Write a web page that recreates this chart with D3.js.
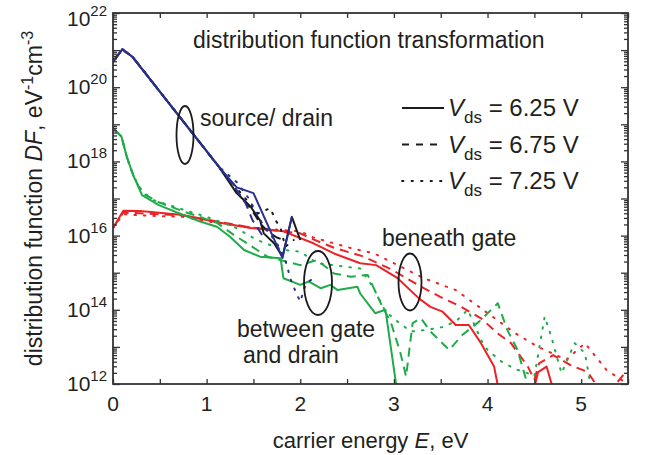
<!DOCTYPE html>
<html>
<head>
<meta charset="utf-8">
<script src="https://cdn.jsdelivr.net/npm/d3@7"></script>
<style>
  body { margin: 0; background: #fff; }
  svg { display: block; font-family: "Liberation Sans", Arial, Helvetica, sans-serif; }
</style>
</head>
<body>
<svg id="chart" width="651" height="455"></svg>
<script>
// Carrier energy distribution functions (eV^-1 cm^-3) vs carrier energy (eV)
// for three drain biases, in three regions of the device.

// --- source / drain region (blue = source, black = drain) ---
const srcSolidE  = [0, 0.10, 0.21, 1.13, 1.32, 1.50, 1.81, 1.91];
const srcSolidDF = [4.9e20, 1.05e21, 6.5e20, 7.2e17, 2.0e17, 1.4e17, 2.5e15, 3.2e16];
const srcDashE   = [0, 0.10, 0.21, 1.13, 1.30, 1.42, 1.49, 1.56, 1.62];
const srcDashDF  = [4.9e20, 1.05e21, 6.5e20, 7.2e17, 2.0e17, 7.1e16, 2.6e16, 1.4e16, 7.9e15];
const srcDotE    = [0, 0.10, 0.21, 1.13, 1.32, 1.45, 1.60, 1.75, 1.84, 1.90, 1.95, 2.00, 2.06, 2.14];
const srcDotDF   = [4.9e20, 1.05e21, 6.5e20, 7.2e17, 2.8e17, 1.0e17, 2.0e16, 6.3e15, 2.2e15, 6.3e14, 3.1e14, 1.66e14, 5.1e14, 7.1e14];

const drnSolidE  = [0, 0.10, 0.21, 1.13, 1.32, 1.47, 1.57, 1.61, 1.72, 1.81, 1.91, 2.00];
const drnSolidDF = [4.9e20, 1.05e21, 6.5e20, 7.2e17, 1.4e17, 6.0e16, 2.6e16, 1.15e16, 6.2e15, 2.7e15, 3.2e16, 7.6e15];
const drnDashE   = [0, 0.10, 0.21, 1.13, 1.32, 1.48, 1.58, 1.66, 1.75, 1.85];
const drnDashDF  = [4.9e20, 1.05e21, 6.5e20, 7.2e17, 1.6e17, 5.0e16, 2.0e16, 1.26e16, 8.9e15, 7.1e15];
const drnDotE    = [0, 0.10, 0.21, 1.13, 1.40, 1.55, 1.68, 1.74, 1.79, 1.84, 1.93];
const drnDotDF   = [4.9e20, 1.05e21, 6.5e20, 7.2e17, 1.1e17, 4.0e16, 5.5e16, 2.5e16, 1.6e16, 5.0e15, 7.6e15];

// --- between gate and drain (green) ---
const gdSolidE  = [0, 0.09, 0.15, 0.22, 0.31, 0.49, 0.75, 0.93, 1.11, 1.25, 1.40, 1.57, 1.79, 1.82, 2.00, 2.09, 2.22, 2.32, 2.40, 2.61, 2.64, 2.80, 2.91, 3.04];
const gdSolidDF = [7.8e18, 4.7e18, 1.26e18, 4.0e17, 1.23e17, 6.6e16, 3.6e16, 2.4e16, 1.74e16, 9.3e15, 4.1e15, 2.7e15, 2.45e15, 7.1e14, 4.7e14, 5.8e14, 3.8e14, 4.7e14, 3.4e14, 4.2e14, 2.75e14, 8.1e13, 1.0e14, 5e11];
const gdDashE   = [0, 0.09, 0.15, 0.22, 0.31, 0.49, 0.75, 0.93, 1.11, 1.29, 1.54, 1.65, 2.00, 2.18, 2.36, 2.54, 2.72, 2.86, 2.97, 3.07, 3.13, 3.20, 3.29, 3.39, 3.59, 3.73, 3.91, 4.11, 4.21, 4.32, 4.46];
const gdDashDF  = [7.8e18, 4.7e18, 1.26e18, 4.0e17, 1.4e17, 7.9e16, 4.5e16, 3.2e16, 2.2e16, 1.05e16, 4.1e15, 2.7e15, 1.6e15, 2.2e15, 9.5e14, 7.8e14, 8.7e14, 1.5e14, 4.4e13, 6.8e12, 1.6e12, 4.4e13, 5.9e13, 2.6e13, 8.3e12, 2.1e13, 4.8e13, 1.5e14, 2.9e13, 8.3e12, 5e11];
const gdDotE    = [0, 0.09, 0.15, 0.22, 0.31, 0.43, 0.75, 1.00, 1.29, 1.54, 1.82, 2.00, 2.18, 2.36, 2.48, 2.64, 2.78, 2.91, 3.04, 3.18, 3.36, 3.54, 3.68, 3.79, 3.93, 4.00, 4.15, 4.30, 4.42, 4.50, 4.61, 4.68, 4.79, 4.93, 5.04, 5.12];
const gdDotDF   = [7.8e18, 4.7e18, 1.26e18, 4.0e17, 1.6e17, 9.1e16, 5.0e16, 3.2e16, 1.74e16, 7.6e15, 4.1e15, 3.7e15, 1.8e15, 1.6e15, 1.45e15, 1.3e15, 4.0e14, 8.9e13, 4.8e13, 2.6e13, 2.9e13, 3.5e13, 5.4e13, 1.0e14, 1.55e13, 8.3e12, 4.0e12, 2.5e12, 2.0e12, 1.6e12, 6.6e13, 1.9e13, 1.95e12, 1.26e13, 6.8e12, 5e11];

// --- beneath the gate (red) ---
const bgSolidE  = [0, 0.11, 0.29, 0.75, 1.11, 1.47, 1.82, 2.14, 2.36, 2.64, 2.81, 3.04, 3.27, 3.39, 3.52, 3.66, 3.80, 3.93, 4.07, 4.13, 4.48, 4.54, 4.63, 4.72];
const bgSolidDF = [1.6e16, 4.7e16, 4.6e16, 3.6e16, 2.3e16, 1.6e16, 1.3e16, 6.2e15, 3.3e15, 1.8e15, 1.6e15, 7.1e14, 2.0e14, 1.2e14, 8.9e13, 3.9e13, 3.9e13, 1.26e13, 2.95e12, 5e11, 5e11, 2.1e12, 2.95e12, 5e11];
const bgDashE   = [0, 0.11, 0.29, 0.75, 1.11, 1.47, 1.82, 2.00, 2.14, 2.36, 2.68, 2.98, 3.29, 3.50, 3.72, 3.93, 4.11, 4.25, 4.43, 4.50, 4.55, 4.70, 4.89, 5.07, 5.18, 5.30, 5.39, 5.50];
const bgDashDF  = [1.6e16, 4.2e16, 4.0e16, 3.5e16, 2.4e16, 1.66e16, 1.3e16, 1.15e16, 7.9e15, 4.7e15, 2.7e15, 1.2e15, 4.2e14, 2.2e14, 1.2e14, 5.9e13, 2.3e13, 1.26e13, 2.95e12, 1.3e12, 3.6e12, 6.0e12, 3.2e12, 2.1e12, 8e11, 5e11, 1.15e12, 2.5e12];
const bgDotE    = [0, 0.11, 0.29, 0.75, 1.11, 1.47, 1.82, 2.00, 2.14, 2.54, 2.79, 3.32, 3.66, 3.93, 4.30, 4.54, 4.84, 5.04, 5.27, 5.46];
const bgDotDF   = [1.6e16, 3.8e16, 3.5e16, 3.2e16, 2.2e16, 1.66e16, 1.4e16, 1.3e16, 8.9e15, 4.6e15, 3.3e15, 7.1e14, 3.4e14, 1.1e14, 2.3e13, 1.0e13, 4.5e12, 1.26e13, 2.4e12, 1.15e12];

// axis ticks and legend entries
const xTicks = [0, 0.5, 1, 1.5, 2, 2.5, 3, 3.5, 4, 4.5, 5, 5.5];
const xLabels = [0, 1, 2, 3, 4, 5];
const yExponents = [12, 14, 16, 18, 20, 22];
const legendVds = ["6.25", "6.75", "7.25"];

const C = { blue: "#27318f", black: "#1b1b1b", green: "#20ab4a", red: "#ec2227" };
const DASH = { solid: null, dash: "9,6", dot: "1.5,8" };

const svg = d3.select("#chart");
const m = { left: 113, right: 628, top: 13, bottom: 384 };

const x = d3.scaleLinear().domain([0, 5.5]).range([m.left, m.right]);
const y = d3.scaleLog().domain([1e12, 1e22]).range([m.bottom, m.top]);

svg.append("defs").append("clipPath").attr("id", "plotclip")
  .append("rect").attr("x", m.left).attr("y", m.top)
  .attr("width", m.right - m.left).attr("height", m.bottom - m.top);

// curves
const series = [
  [bgDotE, bgDotDF, C.red, "dot"], [bgDashE, bgDashDF, C.red, "dash"], [bgSolidE, bgSolidDF, C.red, "solid"],
  [gdDotE, gdDotDF, C.green, "dot"], [gdDashE, gdDashDF, C.green, "dash"], [gdSolidE, gdSolidDF, C.green, "solid"],
  [drnDotE, drnDotDF, C.black, "dot"], [drnDashE, drnDashDF, C.black, "dash"], [drnSolidE, drnSolidDF, C.black, "solid"],
  [srcDotE, srcDotDF, C.blue, "dot"], [srcDashE, srcDashDF, C.blue, "dash"], [srcSolidE, srcSolidDF, C.blue, "solid"]
];
const line = d3.line().x(d => x(d[0])).y(d => y(d[1]));
const gCurves = svg.append("g").attr("clip-path", "url(#plotclip)");
series.forEach(([E, DF, col, st]) => {
  gCurves.append("path")
    .datum(E.map((e, i) => [e, DF[i]]))
    .attr("d", line)
    .attr("fill", "none")
    .attr("stroke", col)
    .attr("stroke-width", 2)
    .attr("stroke-linejoin", "round")
    .attr("stroke-linecap", st === "dot" ? "round" : "butt")
    .attr("stroke-dasharray", DASH[st]);
});

// axes: inward ticks on all four sides
const axisCol = "#333";
function styleAxis(g) {
  g.select(".domain").remove();
  g.selectAll("line").attr("stroke", axisCol).attr("stroke-width", 1.3);
}
svg.append("g").attr("transform", `translate(0,${m.bottom})`)
  .call(d3.axisBottom(x).tickValues(xTicks).tickSize(-5).tickFormat(""))
  .call(styleAxis);
svg.append("g").attr("transform", `translate(0,${m.top})`)
  .call(d3.axisTop(x).tickValues(xTicks).tickSize(-5).tickFormat(""))
  .call(styleAxis);

const decades = d3.range(12, 23).map(e => Math.pow(10, e));
const minors = [];
d3.range(12, 22).forEach(e => { for (let k = 2; k <= 9; k++) minors.push(k * Math.pow(10, e)); });
[[d3.axisLeft, m.left], [d3.axisRight, m.right]].forEach(([ax, px]) => {
  svg.append("g").attr("transform", `translate(${px},0)`)
    .call(ax(y).tickValues(decades).tickSize(-7).tickFormat(""))
    .call(styleAxis);
  svg.append("g").attr("transform", `translate(${px},0)`)
    .call(ax(y).tickValues(minors).tickSize(-4).tickFormat(""))
    .call(styleAxis);
});

// frame
svg.append("rect")
  .attr("x", m.left).attr("y", m.top)
  .attr("width", m.right - m.left).attr("height", m.bottom - m.top)
  .attr("fill", "none").attr("stroke", axisCol).attr("stroke-width", 1.8);

const txtCol = "#231f20";

// tick labels
svg.append("g").selectAll("text").data(xLabels).join("text")
  .attr("x", d => x(d)).attr("y", m.bottom + 27)
  .attr("text-anchor", "middle").attr("font-size", 21).attr("fill", txtCol)
  .text(d => d);

const yl = svg.append("g").selectAll("text").data(yExponents).join("text")
  .attr("x", m.left - 6).attr("y", d => Math.max(y(Math.pow(10, d)) + 7, 26))
  .attr("text-anchor", "end").attr("font-size", 21).attr("fill", txtCol);
yl.append("tspan").text("10");
yl.append("tspan").attr("dy", -10).attr("font-size", 15).text(d => d);

// axis titles
const xt = svg.append("text").attr("x", (m.left + m.right) / 2).attr("y", 448)
  .attr("text-anchor", "middle").attr("font-size", 22).attr("fill", txtCol);
xt.append("tspan").text("carrier energy ");
xt.append("tspan").attr("font-style", "italic").text("E");
xt.append("tspan").text(", eV");

const yt = svg.append("text")
  .attr("transform", `translate(42,${(m.top + m.bottom) / 2}) rotate(-90)`)
  .attr("text-anchor", "middle").attr("font-size", 23).attr("fill", txtCol);
yt.append("tspan").text("distribution function ");
yt.append("tspan").attr("font-style", "italic").text("DF");
yt.append("tspan").text(", eV");
yt.append("tspan").attr("dy", -9).attr("font-size", 16).text("-1");
yt.append("tspan").attr("dy", 9).text("cm");
yt.append("tspan").attr("dy", -9).attr("font-size", 16).text("-3");

// title inside the plot
svg.append("text").attr("x", 193).attr("y", 48).attr("font-size", 23).attr("fill", txtCol)
  .text("distribution function transformation");

// legend
const lg = svg.append("g");
legendVds.forEach((v, i) => {
  const ly = 108 + i * 36.5;
  lg.append("line").attr("x1", 402).attr("x2", 444).attr("y1", ly).attr("y2", ly)
    .attr("stroke", "#1b1b1b").attr("stroke-width", 1.8)
    .attr("stroke-dasharray", [null, "7,7", "1.5,8"][i])
    .attr("stroke-linecap", i === 2 ? "round" : "butt");
  const t = lg.append("text").attr("x", 448).attr("y", ly + 8).attr("font-size", 24).attr("fill", txtCol);
  t.append("tspan").attr("font-style", "italic").text("V");
  t.append("tspan").attr("dy", 7).attr("font-size", 17).text("ds");
  t.append("tspan").attr("dy", -7).text(` = ${v} V`);
});

// region annotations
const ann = svg.append("g").attr("fill", "none").attr("stroke", "#1b1b1b").attr("stroke-width", 1.8);
ann.append("ellipse").attr("cx", 185).attr("cy", 135).attr("rx", 8.5).attr("ry", 29);
ann.append("ellipse").attr("cx", 318).attr("cy", 283).attr("rx", 14).attr("ry", 32);
ann.append("ellipse").attr("cx", 410).attr("cy", 282).attr("rx", 11.5).attr("ry", 28.5);

const labels = [
  ["source/ drain", 200, 126],
  ["beneath gate", 382, 246],
  ["between gate", 237, 337],
  ["and drain", 243, 363]
];
svg.append("g").selectAll("text").data(labels).join("text")
  .attr("x", d => d[1]).attr("y", d => d[2])
  .attr("font-size", 23).attr("fill", txtCol)
  .text(d => d[0]);
</script>
</body>
</html>
